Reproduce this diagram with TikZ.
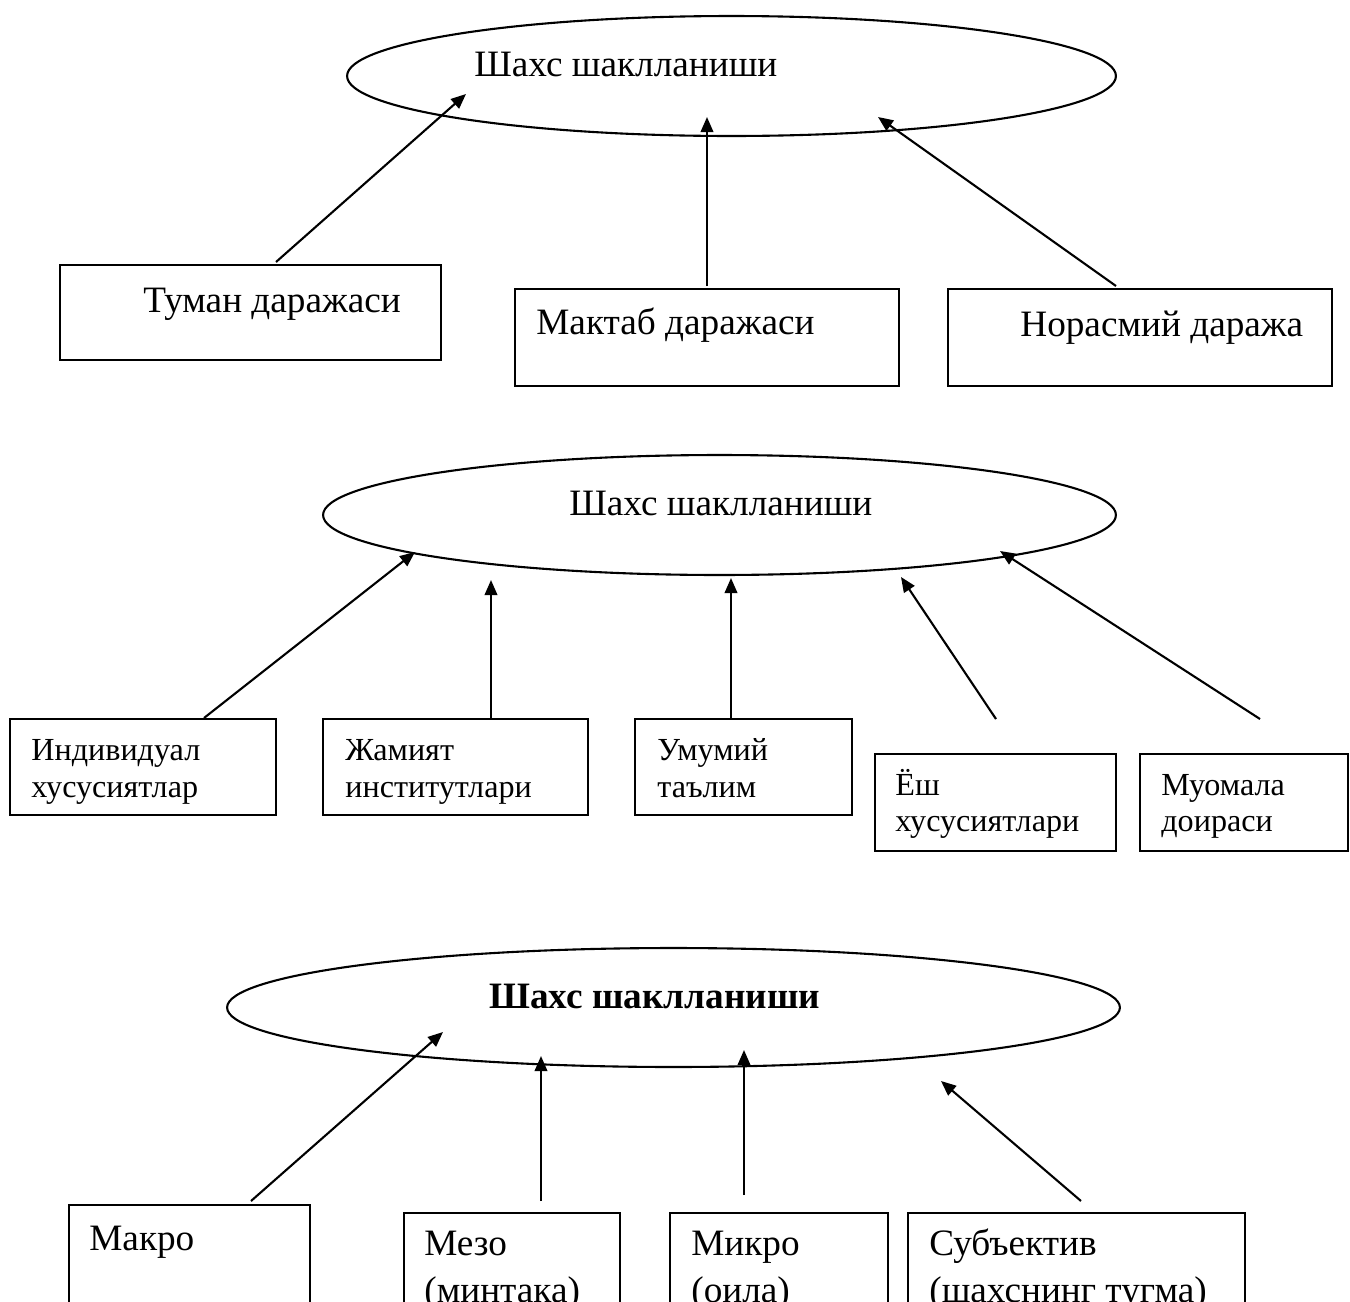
\documentclass[tikz,border=0pt]{standalone}
\usepackage{fontspec}
\setmainfont{Liberation Serif}
\usetikzlibrary{shapes.geometric,arrows.meta}
\tikzset{
  ell/.style={draw, ellipse, line width=0.042cm, inner sep=0pt},
  box/.style={draw, rectangle, line width=0.042cm, inner sep=0pt},
  big/.style={anchor=base west, inner sep=0pt, font=\fontsize{21.2}{25}\selectfont},
  bigb/.style={anchor=base west, inner sep=0pt, font=\fontsize{21.2}{25}\selectfont\bfseries},
  small/.style={anchor=base west, inner sep=0pt, font=\fontsize{18.3}{21}\selectfont},
  arr/.style={line width=0.042cm, -{Triangle[length=0.3cm, width=0.25cm]}}
}
\begin{document}
\begin{tikzpicture}[x=0.02cm, y=-0.02cm]
\clip (0,0) rectangle (1350,1302);
\fill[white] (0,0) rectangle (1350,1302);

% ---------- Section 1 ----------
\node[ell, minimum width=15.38cm, minimum height=2.4cm] (e1) at (731.5,76) {};
\node[big] (te1) at (474,76) {Шахс шаклланиши};
\node[box, minimum width=7.62cm, minimum height=1.9cm] (b11) at (250.5,312.5) {};
\node[box, minimum width=7.68cm, minimum height=1.94cm] (b12) at (707,337.5) {};
\node[box, minimum width=7.68cm, minimum height=1.94cm] (b13) at (1140,337.5) {};
\node[big] (t11) at (143,312) {Туман даражаси};
\node[big] (t12) at (536,334) {Мактаб даражаси};
\node[big] (t13) at (1020,336) {Норасмий даража};
\coordinate (s11) at (276,262); \coordinate (h11) at (466,94);
\coordinate (s12) at (707,286); \coordinate (h12) at (707,117);
\coordinate (s13) at (1116,286); \coordinate (h13) at (878,117);
\draw[arr] (s11) -- (h11);
\draw[arr] (s12) -- (h12);
\draw[arr] (s13) -- (h13);

% ---------- Section 2 ----------
\node[ell, minimum width=15.86cm, minimum height=2.4cm] (e2) at (719.5,515) {};
\node[big] (te2) at (569,515) {Шахс шаклланиши};
\node[box, minimum width=5.32cm, minimum height=1.92cm] (b21) at (143,767) {};
\node[box, minimum width=5.3cm, minimum height=1.92cm] (b22) at (455.5,767) {};
\node[box, minimum width=4.34cm, minimum height=1.92cm] (b23) at (743.5,767) {};
\node[box, minimum width=4.82cm, minimum height=1.94cm] (b24) at (995.5,802.5) {};
\node[box, minimum width=4.16cm, minimum height=1.94cm] (b25) at (1244,802.5) {};
\node[small] (t21a) at (31,760) {Индивидуал};
\node[small] (t21b) at (31,797) {хусусиятлар};
\node[small] (t22a) at (345,760) {Жамият};
\node[small] (t22b) at (345,797) {институтлари};
\node[small] (t23a) at (657,760) {Умумий};
\node[small] (t23b) at (657,797) {таълим};
\node[small] (t24a) at (895,795) {Ёш};
\node[small] (t24b) at (895,831) {хусусиятлари};
\node[small] (t25a) at (1161,795) {Муомала};
\node[small] (t25b) at (1161,831) {доираси};
\coordinate (s21) at (204,718); \coordinate (h21) at (415,552);
\coordinate (s22) at (491,718); \coordinate (h22) at (491,580);
\coordinate (s23) at (731,718); \coordinate (h23) at (731,578);
\coordinate (s24) at (996,719); \coordinate (h24) at (901,577);
\coordinate (s25) at (1260,719); \coordinate (h25) at (1000,551);
\draw[arr] (s21) -- (h21);
\draw[arr] (s22) -- (h22);
\draw[arr] (s23) -- (h23);
\draw[arr] (s24) -- (h24);
\draw[arr] (s25) -- (h25);

% ---------- Section 3 ----------
\node[ell, minimum width=17.86cm, minimum height=2.38cm] (e3) at (673.5,1007.5) {};
\node[bigb] (te3) at (489,1008) {Шахс шаклланиши};
\node[box, minimum width=4.82cm, minimum height=2.7cm] (b31) at (189.5,1272.5) {};
\node[box, minimum width=4.32cm, minimum height=2.54cm] (b32) at (512,1276.5) {};
\node[box, minimum width=4.36cm, minimum height=2.54cm] (b33) at (779,1276.5) {};
\node[box, minimum width=6.74cm, minimum height=2.54cm] (b34) at (1076.5,1276.5) {};
\node[big] (t31) at (89,1250) {Макро};
\node[big] (t32a) at (424,1255) {Мезо};
\node[big] (t32b) at (424,1302) {(минтака)};
\node[big] (t33a) at (691,1255) {Микро};
\node[big] (t33b) at (691,1302) {(оила)};
\node[big] (t34a) at (929,1255) {Субъектив};
\node[big] (t34b) at (929,1302) {(шахснинг тугма)};
\coordinate (s31) at (251,1201); \coordinate (h31) at (443,1032);
\coordinate (s32) at (541,1201); \coordinate (h32) at (541,1056);
\coordinate (s33) at (744,1195); \coordinate (h33) at (744,1050);
\coordinate (s34) at (1081,1201); \coordinate (h34) at (941,1081);
\draw[arr] (s31) -- (h31);
\draw[arr] (s32) -- (h32);
\draw[arr] (s33) -- (h33);
\draw[arr] (s34) -- (h34);
\end{tikzpicture}
\end{document}
